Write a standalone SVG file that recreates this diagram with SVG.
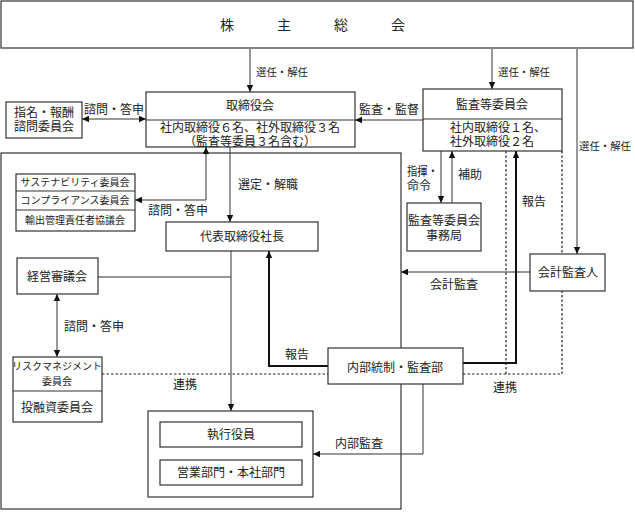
<svg xmlns="http://www.w3.org/2000/svg" width="635" height="512" viewBox="0 0 635 512">
<defs>
<marker id="arr" markerUnits="userSpaceOnUse" markerWidth="8" markerHeight="8" refX="7" refY="4" orient="auto-start-reverse">
<path d="M0,0.8 L7,4 L0,7.2 z" fill="#111"/>
</marker>
<style>
.box{fill:#fff;stroke:#333;stroke-width:1.2}
.frame{fill:none;stroke:#333;stroke-width:1.2}
.ln{fill:none;stroke:#333;stroke-width:1}
.thick{fill:none;stroke:#111;stroke-width:2}
.dot{fill:none;stroke:#222;stroke-width:1.2;stroke-dasharray:2.5,2}
text{font-family:"Liberation Serif","Noto Sans CJK JP",serif;font-size:12px;fill:#222;text-anchor:middle}
.s{font-size:10px}
.sel{font-size:10.4px}
.l{text-anchor:start}
.big{font-size:14px}
</style>
</defs>
<rect width="635" height="512" fill="#fff"/>

<g id="container">
<rect class="frame" x="1" y="153" width="400" height="356"/>
</g>

<g id="connectors">
<path class="ln" d="M250,49 V92" marker-end="url(#arr)"/>
<path class="ln" d="M492,49 V89" marker-end="url(#arr)"/>
<path class="ln" d="M577,49 V254" marker-end="url(#arr)"/>
<path class="ln" d="M82,119 H146" marker-start="url(#arr)" marker-end="url(#arr)"/>
<path class="ln" d="M423,120 H355" marker-end="url(#arr)"/>
<path class="ln" d="M135,200 H206 V147" marker-start="url(#arr)" marker-end="url(#arr)"/>
<path class="ln" d="M230,147 V222" marker-end="url(#arr)"/>
<path class="ln" d="M231,251 V411" marker-end="url(#arr)"/>
<path class="ln" d="M98,277 H231"/>
<path class="ln" d="M57,294 V357" marker-start="url(#arr)" marker-end="url(#arr)"/>
<path class="ln" d="M441,151 V203" marker-end="url(#arr)"/>
<path class="ln" d="M452,203 V151" marker-end="url(#arr)"/>
<path class="ln" d="M530,272 H401" marker-end="url(#arr)"/>
<path class="ln" d="M423,384 V454 H313" marker-end="url(#arr)"/>
<path class="dot" d="M102,374 H328 M463,374 H562 M506,151 V374 M562,151 V374"/>
<path class="thick" d="M328,366 H269 V251" marker-end="url(#arr)"/>
<path class="thick" d="M463,363 H516 V151" marker-end="url(#arr)"/>
</g>

<g id="labels">
<text x="256" y="76" class="l sel">選任・解任</text>
<text x="498" y="76" class="l sel">選任・解任</text>
<text x="579" y="150" class="l sel">選任・解任</text>
<text x="114" y="114">諮問・答申</text>
<text x="389" y="114">監査・監督</text>
<text x="178" y="215">諮問・答申</text>
<text x="268" y="189">選定・解職</text>
<text x="94" y="331">諮問・答申</text>
<text x="297" y="359">報告</text>
<text x="407" y="176" class="l" textLength="31" lengthAdjust="spacingAndGlyphs">指揮・</text>
<text x="407" y="190" class="l">命令</text>
<text x="470" y="179">補助</text>
<text x="534" y="206">報告</text>
<text x="454" y="289">会計監査</text>
<text x="359" y="448">内部監査</text>
<text x="185" y="389">連携</text>
<text x="505" y="392">連携</text>
</g>

<g id="shareholders">
<rect class="box" x="1" y="1" width="632" height="47"/>
<text class="big" x="227" y="30">株</text>
<text class="big" x="284" y="30">主</text>
<text class="big" x="341" y="30">総</text>
<text class="big" x="398" y="30">会</text>
</g>

<g id="board">
<rect class="box" x="146" y="92" width="209" height="55"/>
<path class="ln" d="M146,120 H355"/>
<text x="250" y="110">取締役会</text>
<text x="250" y="132">社内取締役６名、社外取締役３名</text>
<text x="250" y="146">（監査等委員３名含む）</text>
</g>

<g id="nomination">
<rect class="box" x="6" y="102" width="76" height="36"/>
<text x="44" y="117">指名・報酬</text>
<text x="44" y="131">諮問委員会</text>
</g>

<g id="audit-committee">
<rect class="box" x="423" y="89" width="139" height="62"/>
<path class="ln" d="M423,119 H562"/>
<text x="492" y="109">監査等委員会</text>
<text x="450" y="132" class="l">社内取締役１名、</text>
<text x="450" y="146" class="l">社外取締役２名</text>
</g>

<g id="committees">
<rect class="box" x="16" y="174" width="119" height="57"/>
<path class="ln" d="M16,191 H135 M16,210 H135"/>
<text class="s" x="75" y="186">サステナビリティ委員会</text>
<text class="s" x="75" y="204">コンプライアンス委員会</text>
<text class="s" x="75" y="224">輸出管理責任者協議会</text>
</g>

<g id="president">
<rect class="box" x="166" y="222" width="152" height="29"/>
<text x="242" y="241">代表取締役社長</text>
</g>

<g id="audit-office">
<rect class="box" x="407" y="203" width="74" height="48"/>
<text x="444" y="225">監査等委員会</text>
<text x="444" y="240">事務局</text>
</g>

<g id="management-council">
<rect class="box" x="17" y="258" width="81" height="36"/>
<text x="57" y="281">経営審議会</text>
</g>

<g id="accounting-auditor">
<rect class="box" x="530" y="254" width="75" height="37"/>
<text x="568" y="277">会計監査人</text>
</g>

<g id="risk">
<rect class="box" x="13" y="357" width="89" height="65"/>
<path class="ln" d="M13,391 H102"/>
<text class="s" x="57" y="370">リスクマネジメント</text>
<text class="s" x="57" y="385">委員会</text>
<text x="57" y="412">投融資委員会</text>
</g>

<g id="internal-audit">
<rect class="box" x="328" y="348" width="135" height="36"/>
<text x="395" y="372">内部統制・監査部</text>
</g>

<g id="executives">
<rect class="box" x="148" y="411" width="165" height="86"/>
<rect class="box" x="160" y="422" width="142" height="25"/>
<text x="231" y="439">執行役員</text>
<rect class="box" x="160" y="460" width="142" height="25"/>
<text x="231" y="477">営業部門・本社部門</text>
</g>
</svg>
